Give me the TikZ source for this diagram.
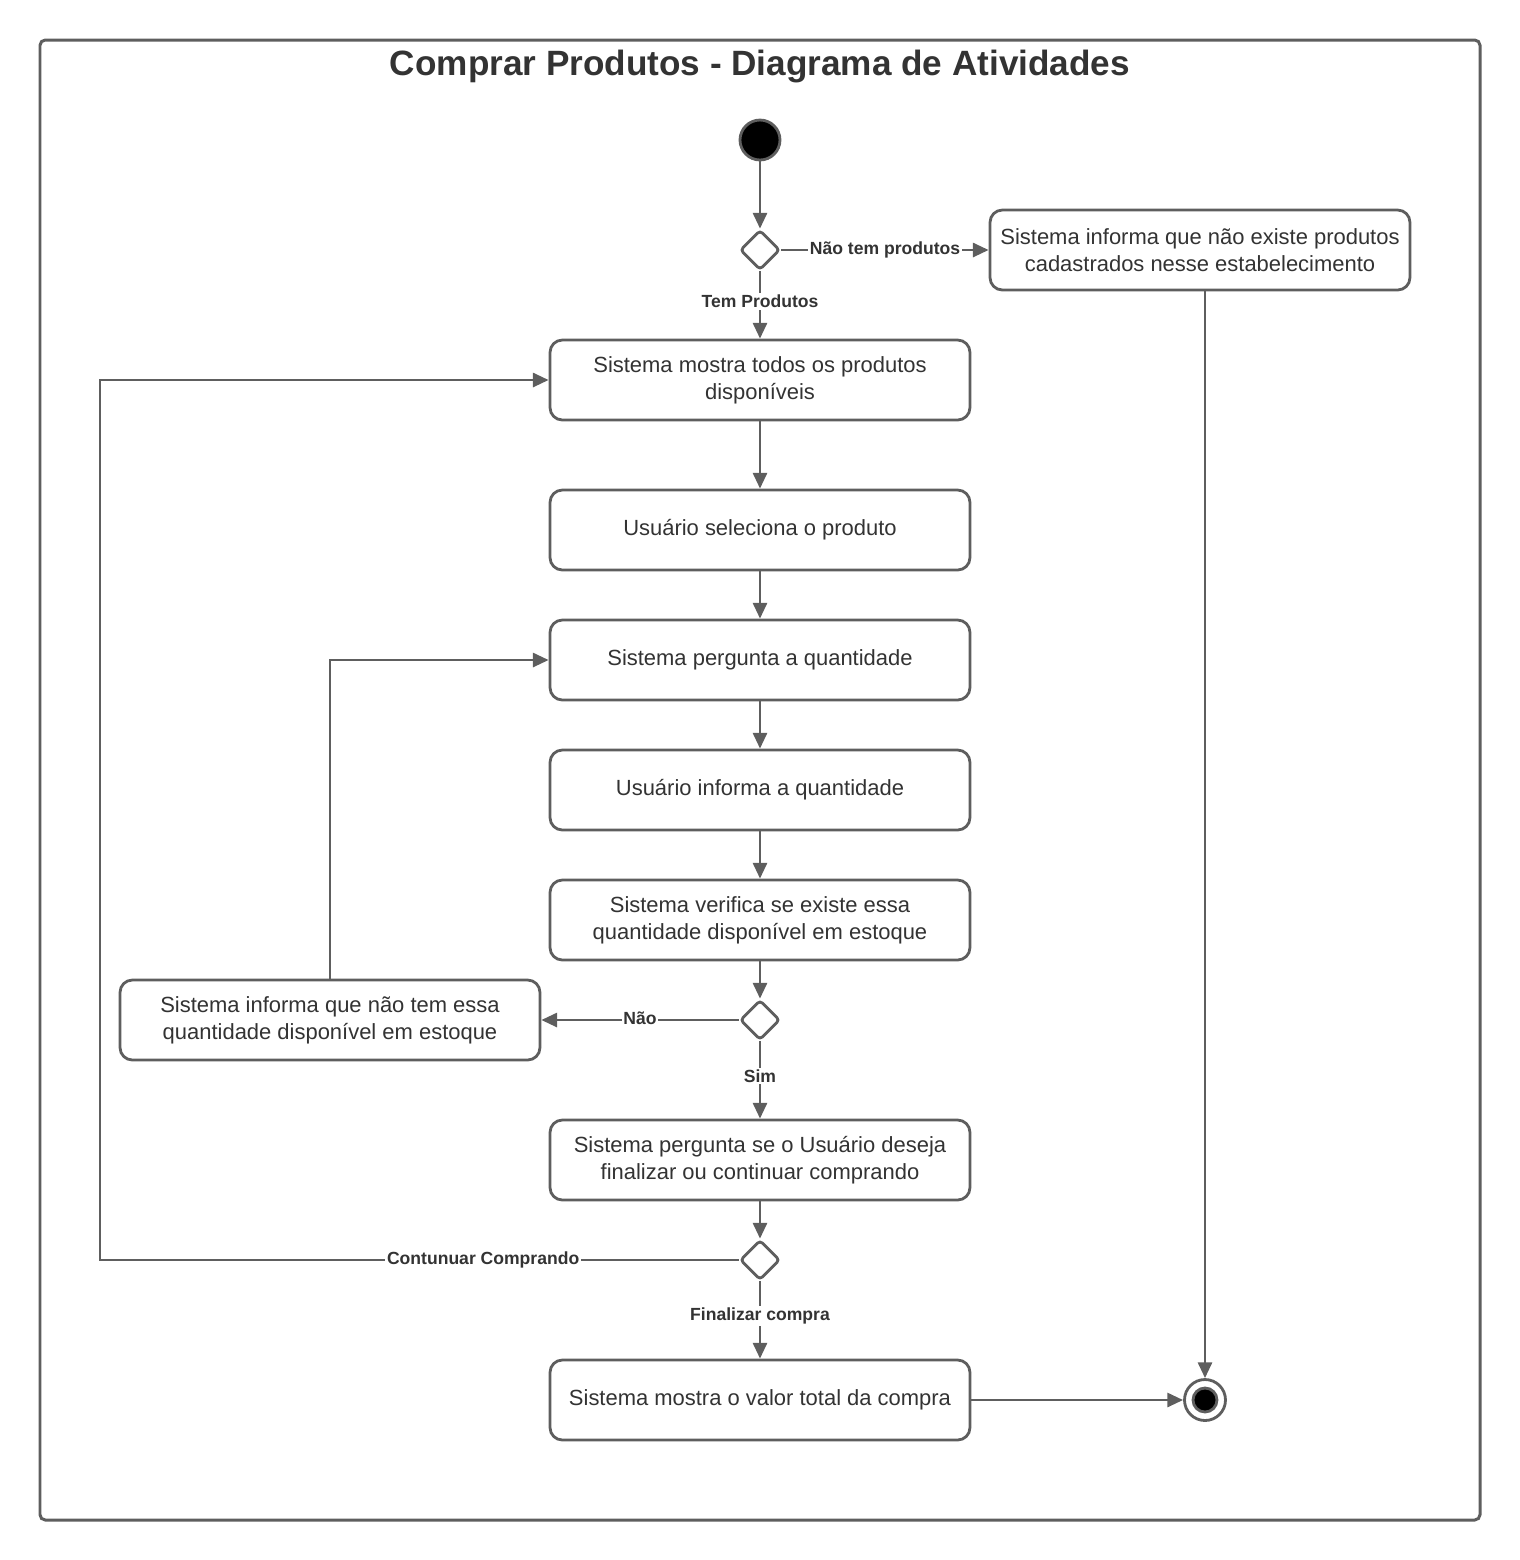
\documentclass[tikz,border=0pt]{standalone}
\usepackage{fontspec}
\setmainfont{Liberation Sans}
\usetikzlibrary{arrows.meta,shapes.geometric}
\definecolor{linegray}{HTML}{5E5E5E}
\definecolor{textgray}{HTML}{333333}

\tikzset{
  action/.style={draw=linegray, line width=1.6pt, rounded corners=7pt, fill=white,
    minimum width=8.4cm, minimum height=1.6cm, align=center, text=textgray,
    font=\fontsize{12.5}{15.3}\selectfont},
  decision/.style={diamond, draw=linegray, line width=1.6pt, fill=white,
    minimum width=0.8cm, minimum height=0.8cm, inner sep=0pt, rounded corners=2pt},
  flow/.style={draw=linegray, line width=1.6pt, -{Triangle[length=9pt,width=8pt]}},
  guard/.style={fill=white, inner sep=1pt, text=textgray,
    font=\bfseries\fontsize{10}{12}\selectfont},
}

\begin{document}
\begin{tikzpicture}[x=0.02cm, y=-0.02cm]
\useasboundingbox (0,0) rectangle (1520,1560);
% frame and title
\draw[linegray, line width=1.7pt, rounded corners=3pt] (40,40) rectangle (1480,1520);
\node[text=textgray, font=\bfseries\fontsize{20}{24}\selectfont] (title) at (760,66) {Comprar Produtos - Diagrama de Atividades};

% start and end
\node[circle, draw=linegray, fill=black, line width=1.6pt,
                        inner sep=0pt, minimum size=0.8cm] (start) at (760,140) {};
\node[circle, draw=linegray, fill=white, line width=1.6pt,
                        inner sep=0pt, minimum size=0.82cm] (final) at (1205,1400) {};
\node[circle, draw=linegray, fill=black, line width=1.6pt,
                        inner sep=0pt, minimum size=0.48cm] (finaldot) at (final) {};

% decisions
\node[decision] (dec1) at (760,250) {};
\node[decision] (dec2) at (760,1020) {};
\node[decision] (dec3) at (760,1260) {};

% actions
\node[action] (noprod) at (1200,250) {Sistema informa que não existe produtos\\cadastrados nesse estabelecimento};
\node[action] (show) at (760,380) {Sistema mostra todos os produtos\\disponíveis};
\node[action] (select) at (760,530) {Usuário seleciona o produto};
\node[action] (ask) at (760,660) {Sistema pergunta a quantidade};
\node[action] (inform) at (760,790) {Usuário informa a quantidade};
\node[action] (check) at (760,920) {Sistema verifica se existe essa\\quantidade disponível em estoque};
\node[action] (nostock) at (330,1020) {Sistema informa que não tem essa\\quantidade disponível em estoque};
\node[action] (askend) at (760,1160) {Sistema pergunta se o Usuário deseja\\finalizar ou continuar comprando};
\node[action] (total) at (760,1400) {Sistema mostra o valor total da compra};

\coordinate (back) at (100,1260);

% flows
\draw[flow] (start) -- (dec1);
\draw[flow] (dec1) -- (noprod) node[midway, guard] {Não tem produtos};
\draw[flow] (dec1) -- (show) node[pos=0.45, guard] {Tem Produtos};
\draw[flow] (noprod.south -| final) -- (final);
\draw[flow] (show) -- (select);
\draw[flow] (select) -- (ask);
\draw[flow] (ask) -- (inform);
\draw[flow] (inform) -- (check);
\draw[flow] (check) -- (dec2);
\draw[flow] (dec2) -- (nostock) node[midway, guard, yshift=1pt] {Não};
\draw[flow] (nostock.north) |- (ask.west);
\draw[flow] (dec2) -- (askend) node[pos=0.45, guard] {Sim};
\draw[flow] (askend) -- (dec3);
\draw[flow] (dec3) -- (back) node[pos=0.4, guard] {Contunuar Comprando} |- (show.west);
\draw[flow] (dec3) -- (total) node[pos=0.45, guard] {Finalizar compra};
\draw[flow] (total) -- (final);
\end{tikzpicture}
\end{document}
